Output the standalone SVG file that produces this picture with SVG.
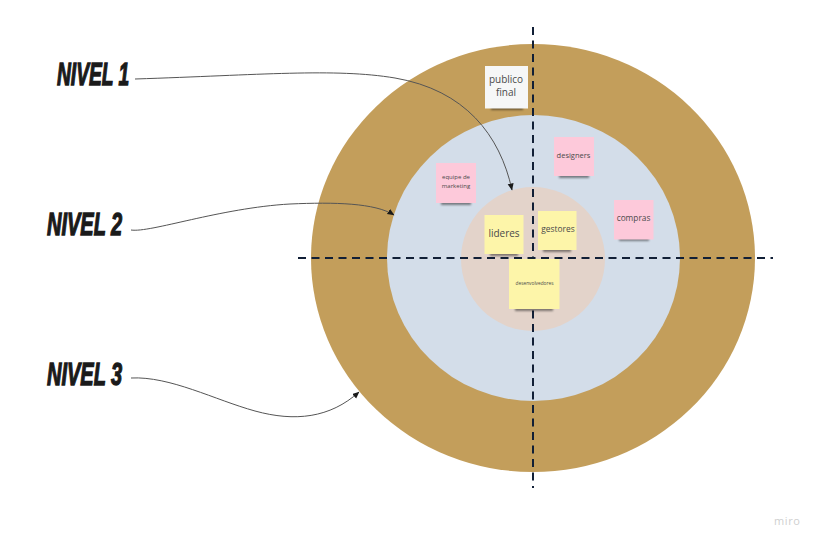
<svg xmlns="http://www.w3.org/2000/svg" width="820" height="544" viewBox="0 0 820 544">
<defs>
<marker id="ah" markerWidth="8" markerHeight="8" refX="6.500" refY="3" orient="auto" markerUnits="userSpaceOnUse"><path d="M0,0 L7,3 L0,6 Z" fill="#1a1a1a"/></marker>
<filter id="bl" x="-20%" y="-100%" width="140%" height="300%"><feGaussianBlur stdDeviation="1.200"/></filter>
</defs>
<style>
.lv{font-family:"Liberation Sans",Arial,sans-serif;font-weight:700;font-style:italic;fill:#1a1a1a;stroke:#1a1a1a;stroke-width:1.300;font-size:31px}
.t{font-family:"Open Sans","Noto Sans",sans-serif;text-anchor:middle;fill:#4a4a4a}
.p{fill:#fdc9da}
.y{fill:#fdf5a9}
.s{fill:#000;opacity:.45;filter:url(#bl)}
.c{fill:none;stroke:#555;stroke-width:1;marker-end:url(#ah)}
.d{fill:none;stroke:#111f36;stroke-width:2;stroke-dasharray:8 5.500}
</style>
<rect width="820" height="544" fill="#fff"/>
<g id="nivel3-ring"><ellipse cx="533" cy="258" rx="222" ry="214" fill="#c39e5b"/></g>
<g id="nivel2-ring"><ellipse cx="533.500" cy="258" rx="146.500" ry="143" fill="#d3dde9"/></g>
<g id="nivel1-ring"><ellipse cx="533" cy="259" rx="72" ry="72" fill="#e3d3ca"/></g>
<g id="axes">
<path class="d" d="M533,27V488"/>
<path class="d" d="M298,258H773"/>
</g>
<g id="connectors">
<path class="c" d="M135,79C260,75 335,68 395,78C465,90 500,135 512,190"/>
<path class="c" d="M131,230C150,233 220,208 290,204C335,202 375,203 394,215"/>
<path class="c" d="M131,378C170,376 215,400 255,411C295,422 330,418 359,392"/>
</g>
<g id="label-nivel1"><text class="lv" transform="translate(57,85) scale(.62,1)">NIVEL 1</text></g>
<g id="label-nivel2"><text class="lv" transform="translate(47,235) scale(.645,1)">NIVEL 2</text></g>
<g id="label-nivel3"><text class="lv" transform="translate(47,385) scale(.645,1)">NIVEL 3</text></g>
<g id="publico-final"><rect class="s" x="491" y="105" width="32" height="5"/><rect x="485" y="66" width="43" height="42.500" fill="#f6f7f7"/><text class="t" font-size="10" x="506" y="83">publico</text><text class="t" font-size="10" x="506" y="96">final</text></g>
<g id="designers"><rect class="s" x="559" y="173" width="30" height="5"/><rect class="p" x="554" y="137" width="40" height="39"/><text class="t" font-size="7.500" x="573.500" y="158">designers</text></g>
<g id="equipe-marketing"><rect class="s" x="441" y="200" width="30" height="5"/><rect class="p" x="436" y="163" width="40" height="40"/><text class="t" font-size="6" x="456" y="179">equipe de</text><text class="t" font-size="6" x="456" y="188">marketing</text></g>
<g id="compras"><rect class="s" x="619" y="236" width="30" height="5"/><rect class="p" x="614" y="200" width="39.500" height="39.500"/><text class="t" font-size="8.300" x="633.500" y="221">compras</text></g>
<g id="lideres"><rect class="s" x="490" y="251" width="28" height="5"/><rect class="y" x="484.500" y="215" width="39" height="39"/><text class="t" font-size="10" x="504" y="237">lideres</text></g>
<g id="gestores"><rect class="s" x="543" y="247" width="28" height="5"/><rect class="y" x="538" y="211" width="38.500" height="39"/><text class="t" font-size="8.400" x="558" y="232">gestores</text></g>
<g id="desenvolvedores"><rect class="s" x="515" y="306" width="38" height="5"/><rect class="y" x="509" y="259" width="50.500" height="50"/><text class="t" font-size="4.800" x="534.500" y="285" fill="#777">desenvolvedores</text></g>
<g id="watermark"><text x="774" y="525" font-family="Open Sans,sans-serif" font-size="11" letter-spacing=".6" fill="#cfcfcf">miro</text></g>
</svg>
